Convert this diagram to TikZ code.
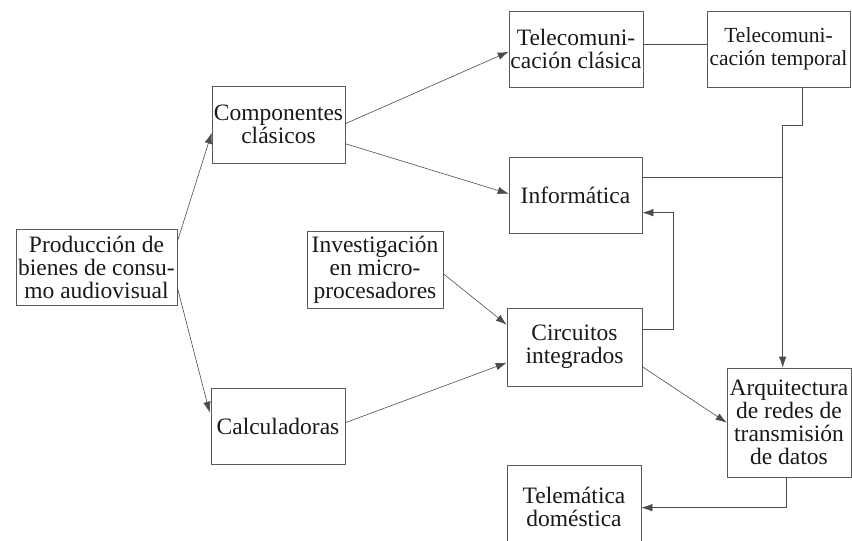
\documentclass[tikz,border=0pt]{standalone}
\usepackage{fontspec}
\setmainfont{Liberation Serif}
\usetikzlibrary{arrows.meta,calc}
\begin{document}
\begin{tikzpicture}[x=1pt,y=-1pt,
  box/.style={draw=black!65, line width=0.6pt, inner sep=0pt, align=center,
    font=\fontsize{23.5}{23}\selectfont, text=black!90},
  conn/.style={draw=black!70, line width=0.6pt},
  arr/.style={conn, -{Latex[length=11pt,width=7.5pt]}}]
\useasboundingbox (0,0) rectangle (852,541);
% boxes
\node[box, minimum width=161, minimum height=76] (prod) at (96.5,267) {Producción de\\bienes de consu-\\mo audiovisual};
\node[box, minimum width=133, minimum height=77] (comp) at (278.5,124.5) {Componentes\\clásicos};
\node[box, minimum width=134, minimum height=76] (calc) at (278,426) {Calculadoras};
\node[box, minimum width=134, minimum height=76] (tcl) at (576,49) {Telecomuni-\\cación clásica};
\node[box, minimum width=143, minimum height=76, font=\fontsize{21.5}{23}\selectfont] (ttemp) at (778.5,49) {Telecomuni-\\cación temporal};
\node[box, minimum width=133, minimum height=76] (info) at (575.5,195) {Informática};
\node[box, minimum width=136, minimum height=77] (inv) at (375,269.5) {Investigación\\en micro-\\procesadores};
\node[box, minimum width=135, minimum height=78] (circ) at (574.5,347) {Circuitos\\integrados};
\node[box, minimum width=124, minimum height=109] (arq) at (789,422.5) {Arquitectura\\de redes de\\transmisión\\de datos};
\node[box, minimum width=134, minimum height=84] (tele) at (574,507) {Telemática\\doméstica};
% connectors
\draw[arr] ($(prod.north east)+(0,13)$) -- ($(comp.north west)+(0,47)$);
\draw[arr] ($(prod.south east)+(0,-18)$) -- ($(calc.north west)+(-1,25)$);
\draw[arr] ($(comp.north east)+(0,38)$) -- ($(tcl.north west)+(0,41)$);
\draw[arr] ($(comp.north east)+(0,58)$) -- ($(info.north west)+(0,37)$);
\draw[arr] ($(inv.north east)+(0,43)$) -- ($(circ.north west)+(0,17)$);
\draw[arr] ($(calc.north east)+(0,35)$) -- ($(circ.north west)+(0,55)$);
\draw[conn] ($(tcl.north east)+(0,34)$) -- ($(ttemp.north west)+(0,34)$);
\coordinate (b1) at ($(ttemp.south west)+(96,38)$);
\coordinate (tA) at ($(arq.north west)+(56,0)$);
\draw[arr] ($(ttemp.south west)+(96,0)$) -- (b1) -| (tA);
\coordinate (iA) at ($(info.north east)+(0,21)$);
\draw[conn] (iA) -- (iA -| tA);
\coordinate (cA) at ($(circ.north east)+(0,22)$);
\coordinate (iB) at ($(info.north east)+(0,56)$);
\draw[arr] (cA) -- ++(31,0) |- (iB);
\draw[arr] ($(circ.north east)+(0,59)$) -- ($(arq.north west)+(0,55)$);
\coordinate (aB) at ($(arq.south west)+(60,0)$);
\coordinate (tE) at ($(tele.north east)+(0,43)$);
\draw[arr] (aB) |- (tE);
\end{tikzpicture}
\end{document}
